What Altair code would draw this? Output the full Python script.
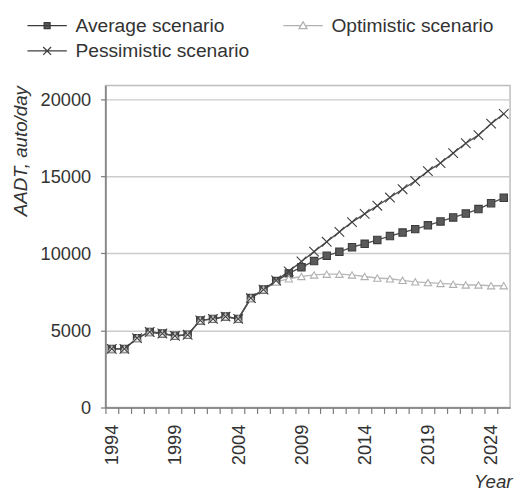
import altair as alt
import pandas as pd

# ---- data ----
years = list(range(1994, 2026))
scenarios = ["Average scenario", "Optimistic scenario", "Pessimistic scenario"]

average = [3800, 3800, 4500, 4900, 4800, 4650, 4720, 5650, 5750, 5900, 5750, 7100, 7650,
           8200, 8700, 9100, 9500, 9850, 10100, 10400, 10620, 10870, 11120, 11350, 11570,
           11820, 12070, 12330, 12580, 12870, 13250, 13600]
optimistic = [3800, 3800, 4500, 4900, 4800, 4650, 4720, 5650, 5750, 5900, 5750, 7100, 7650,
              8150, 8350, 8500, 8600, 8650, 8650, 8600, 8500, 8400, 8350, 8250, 8150,
              8100, 8050, 8000, 7950, 7950, 7900, 7900]
pessimistic = [3800, 3800, 4500, 4900, 4800, 4650, 4720, 5650, 5750, 5900, 5750, 7100, 7650,
               8240, 8830, 9470, 10110, 10750, 11390, 12030, 12560, 13090, 13620, 14160, 14690,
               15330, 15860, 16500, 17140, 17670, 18410, 19050]

y_ticks = [0, 5000, 10000, 15000, 20000]
x_tick_years = list(range(1994, 2027))

rows = []
for name, vals in [("Optimistic scenario", optimistic),
                   ("Average scenario", average),
                   ("Pessimistic scenario", pessimistic)]:
    for yr, v in zip(years, vals):
        rows.append({"year": yr, "value": v, "scenario": name})
df = pd.DataFrame(rows)

# ---- styles ----
FONT = "Liberation Sans"
TXT = "#333333"
line_colors = ["#505050", "#b8b8b8", "#505050"]
marker_stroke = ["#3c3c3c", "#b0b0b0", "#404040"]
marker_fill = ["#5a5a5a", "#ffffff", "#404040"]
X_PATH = "M-1.3,-1.3L1.3,1.3M-1.3,1.3L1.3,-1.3"
marker_shapes = ["square", "triangle-up", X_PATH]
legend_shapes = [
    "M-5,0H5M-0.75,-0.75H0.75V0.75H-0.75Z",
    "M-5,0H-0.6M0.6,0H5M0,-1L1,0.75H-1Z",
    "M-5,0H5M-1,-1L1,1M-1,1L1,-1",
]

x_enc = alt.X(
    "year:Q",
    scale=alt.Scale(domain=[1993.5, 2025.5], nice=False, zero=False),
    axis=alt.Axis(
        values=x_tick_years, format="d",
        labelExpr="datum.value % 5 == 4 && datum.value < 2025 ? datum.label : ''",
        labelAngle=-90, labelAlign="right", labelBaseline="middle",
        tickOffset=-6.42, labelOffset=6.42, labelFlush=False, labelOverlap=False,
        tickSize=6, labelPadding=11, grid=False,
        title="Year", titleFontStyle="italic", titleFontWeight="normal",
        titleFontSize=19, titleFont=FONT, titleColor=TXT,
        titleAlign="right", titleBaseline="alphabetic", titleAnchor="end",
        titleX=413, titleY=81,
    ),
)
y_enc = alt.Y(
    "value:Q",
    scale=alt.Scale(domain=[0, 20880], nice=False),
    axis=alt.Axis(
        values=y_ticks, format="d", grid=True,
        tickSize=5, labelPadding=10,
        title="AADT, auto/day", titleFontStyle="italic", titleFontWeight="normal",
        titleFontSize=19, titleFont=FONT, titleColor=TXT,
        titleAngle=-90, titleAlign="right", titleBaseline="alphabetic",
        titleX=-80, titleY=0,
    ),
)

base = alt.Chart(df)

lines = base.mark_line(strokeWidth=1.4).encode(
    x=x_enc, y=y_enc,
    color=alt.Color("scenario:N", scale=alt.Scale(domain=scenarios, range=line_colors), legend=None),
)

points = base.mark_point(size=56, opacity=1, strokeWidth=1.1).encode(
    x=x_enc, y=y_enc,
    shape=alt.Shape("scenario:N", scale=alt.Scale(domain=scenarios, range=marker_shapes), legend=None),
    fill=alt.Fill("scenario:N", scale=alt.Scale(domain=scenarios, range=marker_fill), legend=None),
    stroke=alt.Stroke("scenario:N", scale=alt.Scale(domain=scenarios, range=marker_stroke), legend=None),
    order=alt.Order("scenario:N"),
)

leg = alt.Legend(
    orient="none", legendX=-80, legendY=-71, direction="horizontal", columns=2,
    title=None, labelFontSize=19.5, labelFont=FONT, labelColor=TXT, labelLimit=400,
    symbolSize=64, symbolOffset=11, labelOffset=19, symbolStrokeWidth=1.3,
    columnPadding=31, rowPadding=5, padding=0,
)

legend_layer = base.transform_filter("datum.value < 0").mark_point(
    size=64, opacity=1, strokeWidth=1.3
).encode(
    x=x_enc, y=y_enc,
    shape=alt.Shape("scenario:N", scale=alt.Scale(domain=scenarios, range=legend_shapes), legend=leg),
    fill=alt.Fill("scenario:N", scale=alt.Scale(domain=scenarios, range=marker_fill), legend=leg),
    stroke=alt.Stroke("scenario:N", scale=alt.Scale(domain=scenarios, range=marker_stroke), legend=leg),
)

chart = alt.layer(lines, points, legend_layer).resolve_scale(
    shape="independent", fill="independent", stroke="independent"
).properties(
    width=411, height=327,
    autosize=alt.AutoSizeParams(type="none"),
    padding={"left": 99, "top": 75, "right": 4, "bottom": 83},
    background="white",
).configure_view(
    stroke="#bdbdbd", strokeWidth=1.5
).configure_axis(
    labelFont=FONT, labelFontSize=18.5, labelColor=TXT,
    domainColor="#7a7a7a", domainWidth=1.5,
    tickColor="#7a7a7a", tickWidth=1.2,
    gridColor="#cccccc", gridWidth=1.5,
)

chart.save("out.html", embed_options={"renderer": "svg", "actions": False})
